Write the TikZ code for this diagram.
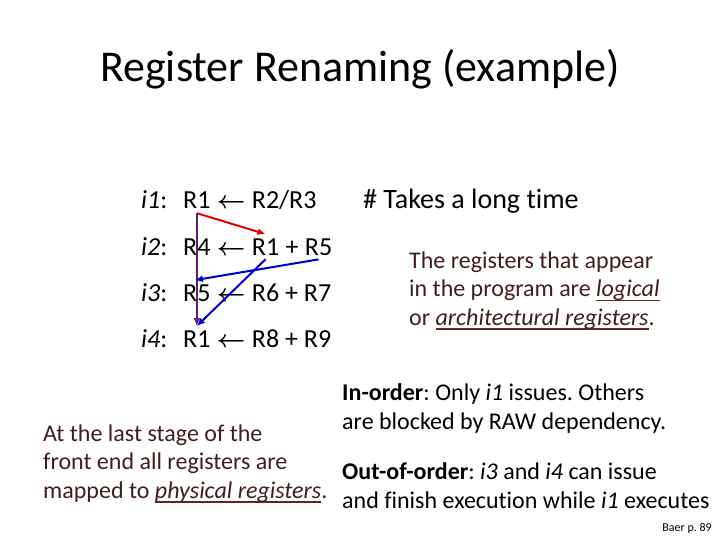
\documentclass[tikz,border=0pt]{standalone}
\usepackage{fontspec}
\setmainfont[Ligatures=NoCommon]{Carlito}
\usetikzlibrary{arrows.meta,positioning}
\frenchspacing

\definecolor{textbrown}{RGB}{64,30,30}
\definecolor{ulbrown}{RGB}{100,36,36}
\definecolor{depred}{RGB}{228,0,0}
\definecolor{depblue}{RGB}{0,0,200}
\definecolor{deppurple}{RGB}{96,30,110}

% underline in a colour of its own
\newcommand{\ulword}[1]{\setbox0\hbox{#1}\rlap{\textcolor{ulbrown}{\rule[-4.5pt]{\wd0}{1.5pt}}}\box0}
\newcommand{\getsarrow}{{\boldmath$\leftarrow$}}

\tikzset{
  instr/.style={font=\fontsize{26}{30}\selectfont, inner sep=0pt, anchor=base west},
  reg/.style={instr, inner ysep=4pt},
  note/.style={font=\fontsize{24}{28.3}\selectfont, inner sep=0pt, align=left, anchor=base west},
  dep/.style={line width=2pt, -{Latex[length=8pt,width=7pt]}},
}

\begin{document}
\begin{tikzpicture}[x=1pt,y=-1pt]
  \useasboundingbox (0,0) rectangle (720,540);

  \node[font=\fontsize{44}{52}\selectfont, inner sep=0pt, anchor=base] (title) at (360,82) {Register Renaming (example)};

  % i1
  \node[instr] (lab1) at (141,209) {\textit{i1}:};
  \node[reg] (d1) at (183,209) {R1};
  \node[instr] (a1) at ([xshift=6pt]d1.base east) {\getsarrow};
  \node[instr] (s1) at ([xshift=6pt]a1.base east) {R2/R3};

  % i2
  \node[instr] (lab2) at (141,255) {\textit{i2}:};
  \node[reg] (d2) at (183,255) {R4};
  \node[instr] (a2) at ([xshift=6pt]d2.base east) {\getsarrow};
  \node[reg] (s2a) at ([xshift=6pt]a2.base east) {R1};
  \node[instr] (p2) at ([xshift=6pt]s2a.base east) {+};
  \node[reg] (s2b) at ([xshift=6pt]p2.base east) {R5};

  % i3
  \node[instr] (lab3) at (141,301) {\textit{i3}:};
  \node[reg] (d3) at (183,301) {R5};
  \node[instr] (a3) at ([xshift=6pt]d3.base east) {\getsarrow};
  \node[instr] (s3) at ([xshift=6pt]a3.base east) {R6 + R7};

  % i4
  \node[instr] (lab4) at (141,347) {\textit{i4}:};
  \node[reg] (d4) at (183,347) {R1};
  \node[instr] (a4) at ([xshift=6pt]d4.base east) {\getsarrow};
  \node[instr] (s4) at ([xshift=6pt]a4.base east) {R8 + R9};

  % dependencies
  \draw[dep, depred] (d1.south) -- (s2a.north);
  \draw[dep, deppurple] (d1.south) -- (d4.north);
  \draw[dep, depblue] (s2b.south) -- ([xshift=-2pt]d3.north);
  \draw[dep, depblue] (s2a.south) -- (d4.north);

  % notes (a node of several lines sits on its last baseline)
  \node[note, font=\fontsize{28}{32}\selectfont] (takes) at (363,209) {\# Takes a long time};
  \node[note, text=textbrown] (logical) at (409,325) {The registers that appear\\in the program are \ulword{\textit{logical}}\\or \ulword{\textit{architectural registers}}.};
  \node[note] (inorder) at (342,429) {\textbf{In-order}: Only \textit{i1} issues. Others\\are blocked by RAW dependency.};
  \node[note] (outorder) at (342,508) {\textbf{Out-of-order}: \textit{i3} and \textit{i4} can issue\\and finish execution while \textit{i1} executes};
  \node[note, text=textbrown] (physical) at (43,498) {At the last stage of the\\front end all registers are\\mapped to \ulword{\textit{physical registers}}.};
  \node[font=\fontsize{12}{14}\selectfont, inner sep=0pt, anchor=base east] (baer) at (712,531) {Baer p. 89};
\end{tikzpicture}
\end{document}
